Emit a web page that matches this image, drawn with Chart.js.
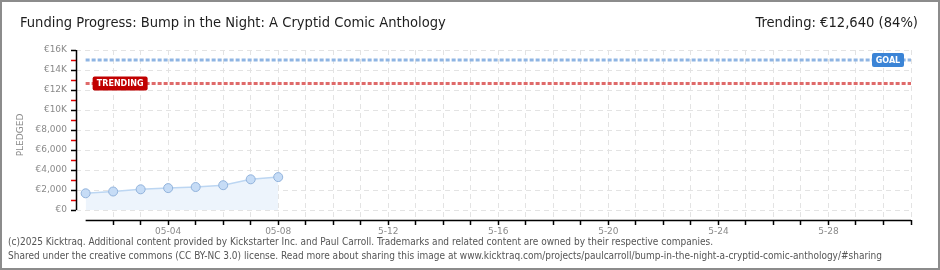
<!DOCTYPE html>
<html lang="en">
<head>
<meta charset="UTF-8">
<title>Funding Progress</title>
<script src="https://cdn.jsdelivr.net/npm/chart.js@4"></script>
<style>
  html, body { margin: 0; padding: 0; background: #fff; }
  #caixa { position: relative; width: 940px; height: 270px; overflow: hidden; }
  #caixa canvas { position: absolute; left: 0; top: 0; }
  #moldura { position: absolute; left: 0; top: 0; width: 940px; height: 270px; box-sizing: border-box; border: 2px solid #8c8c8c; pointer-events: none; }
  .topo { position: absolute; top: 13px; font-family: "DejaVu Sans Condensed", sans-serif; font-size: 14.6px; color: #1e1e1e; white-space: nowrap; }
  #titulo { left: 20px; }
  #trending { right: 22px; }
  .rodape { position: absolute; left: 8px; font-family: "DejaVu Sans Condensed", sans-serif; font-size: 10px; color: #555; white-space: nowrap; }
</style>
</head>
<body>
<div id="caixa">
  <canvas id="grafico" width="940" height="270"></canvas>
  <div class="topo" id="titulo">Funding Progress: Bump in the Night: A Cryptid Comic Anthology</div>
  <div class="topo" id="trending">Trending: &euro;12,640 (84%)</div>
  <div class="rodape" style="top:236px">(c)2025 Kicktraq. Additional content provided by Kickstarter Inc. and Paul Carroll. Trademarks and related content are owned by their respective companies.</div>
  <div class="rodape" style="top:250px">Shared under the creative commons (CC BY-NC 3.0) license. Read more about sharing this image at www.kicktraq.com/projects/paulcarroll/bump-in-the-night-a-cryptid-comic-anthology/#sharing</div>
  <div id="moldura"></div>
</div>

<script>
// dias com dados (05-01 .. 05-08) e valor acumulado
const dias = ['05-01', '05-02', '05-03', '05-04', '05-05', '05-06', '05-07', '05-08'];
const pledged = [1670, 1850, 2070, 2190, 2300, 2480, 3070, 3290];

// campanha vai ate 05-31 (indice 30)
const ultimoDia = 30;
const posRotulos = [3, 7, 11, 15, 19, 23, 27];
const rotulosX = ['05-04', '05-08', '5-12', '5-16', '5-20', '5-24', '5-28'];

const meta = 15000;
const tendencia = 12640;
const yMax = 16000;

function formatoEuro(v) {
  if (v >= 10000) return '\u20ac' + (v / 1000) + 'K';
  return '\u20ac' + v.toLocaleString('en-US');
}

const fonteEixo = { family: 'DejaVu Sans', size: 9 };

// linhas dos eixos separadas (estilo kicktraq) e etiquetas GOAL / TRENDING
const extras = {
  id: 'extras',
  afterDatasetsDraw(chart) {
    const { ctx, scales: { x, y } } = chart;
    ctx.save();
    ctx.strokeStyle = '#000';
    ctx.lineWidth = 1.5;
    ctx.beginPath();
    ctx.moveTo(y.right + 0.5, y.getPixelForValue(yMax));
    ctx.lineTo(y.right + 0.5, y.getPixelForValue(0));
    ctx.moveTo(x.getPixelForValue(0), x.top + 0.5);
    ctx.lineTo(x.getPixelForValue(ultimoDia), x.top + 0.5);
    ctx.stroke();

    function etiqueta(texto, xEsq, yMeio, larg, cor) {
      ctx.fillStyle = cor;
      ctx.beginPath();
      ctx.roundRect(xEsq, yMeio - 7, larg, 14, 2);
      ctx.fill();
      ctx.fillStyle = '#fff';
      ctx.font = 'bold 8px "DejaVu Sans"';
      ctx.textBaseline = 'middle';
      ctx.textAlign = 'center';
      ctx.fillText(texto, xEsq + larg / 2, yMeio + 0.5);
    }
    const yMeta = y.getPixelForValue(meta);
    const xFim = x.getPixelForValue(ultimoDia);
    etiqueta('GOAL', xFim - 39, yMeta, 32, '#3b84d6');
    const yTend = y.getPixelForValue(tendencia);
    etiqueta('TRENDING', x.getPixelForValue(0) + 7, yTend, 55, '#c10000');
    ctx.restore();
  }
};

const ctx = document.getElementById('grafico');
new Chart(ctx, {
  type: 'line',
  data: {
    datasets: [
      {
        data: [{ x: 0, y: meta }, { x: ultimoDia, y: meta }],
        borderColor: '#8fb5e3',
        borderWidth: 3,
        borderDash: [4, 2],
        pointRadius: 0,
        fill: false
      },
      {
        data: [{ x: 0, y: tendencia }, { x: ultimoDia, y: tendencia }],
        borderColor: '#df6a6a',
        borderWidth: 3,
        borderDash: [4, 2],
        pointRadius: 0,
        fill: false
      },
      {
        data: pledged.map((v, i) => ({ x: i, y: v })),
        borderColor: '#bcd6f2',
        borderWidth: 1.5,
        backgroundColor: '#edf4fc',
        fill: { value: 0 },
        pointRadius: 4.5,
        pointBackgroundColor: '#c6dcf6',
        pointBorderColor: '#92b3dc',
        pointBorderWidth: 1,
        tension: 0
      }
    ]
  },
  options: {
    responsive: false,
    animation: false,
    devicePixelRatio: 1,
    events: [],
    layout: { padding: { left: 0, right: 29, top: 50, bottom: 0 } },
    plugins: { legend: { display: false }, tooltip: { enabled: false } },
    scales: {
      x: {
        type: 'linear',
        min: -0.35,
        max: ultimoDia,
        afterBuildTicks: s => { s.ticks = s.ticks.filter(t => Number.isInteger(t.value)); },
        afterFit: s => { s.height = 50; },
        border: { display: false, dash: [5, 4] },
        grid: { color: '#e3e3e3', lineWidth: 1, tickColor: '#000', tickLength: 5, tickWidth: 1.5 },
        ticks: {
          stepSize: 1,
          autoSkip: false,
          maxRotation: 0,
          padding: 1,
          color: '#8a8a8a',
          font: fonteEixo,
          callback: v => {
            const i = posRotulos.indexOf(v);
            return i < 0 ? '' : rotulosX[i];
          }
        }
      },
      y: {
        min: -1000,
        max: yMax,
        afterBuildTicks: s => { s.ticks = s.ticks.filter(t => t.value >= 0); },
        afterFit: s => { s.width = 76; },
        border: { display: false, dash: [5, 4] },
        grid: {
          color: c => (c.tick && c.tick.value % 2000 === 0) ? '#e3e3e3' : 'rgba(0,0,0,0)',
          lineWidth: 1,
          tickColor: c => (c.tick && c.tick.value % 2000 === 0) ? '#000' : '#e00000',
          tickLength: 5,
          tickWidth: 1.5
        },
        ticks: {
          stepSize: 1000,
          autoSkip: false,
          padding: 4,
          color: '#8a8a8a',
          font: fonteEixo,
          callback: v => (v % 2000 === 0) ? formatoEuro(v) : ''
        },
        title: {
          display: true,
          text: 'PLEDGED',
          color: '#8a8a8a',
          font: { family: 'DejaVu Sans', size: 9 },
          padding: { top: 15, bottom: 0 }
        }
      }
    }
  },
  plugins: [extras]
});
</script>
</body>
</html>
